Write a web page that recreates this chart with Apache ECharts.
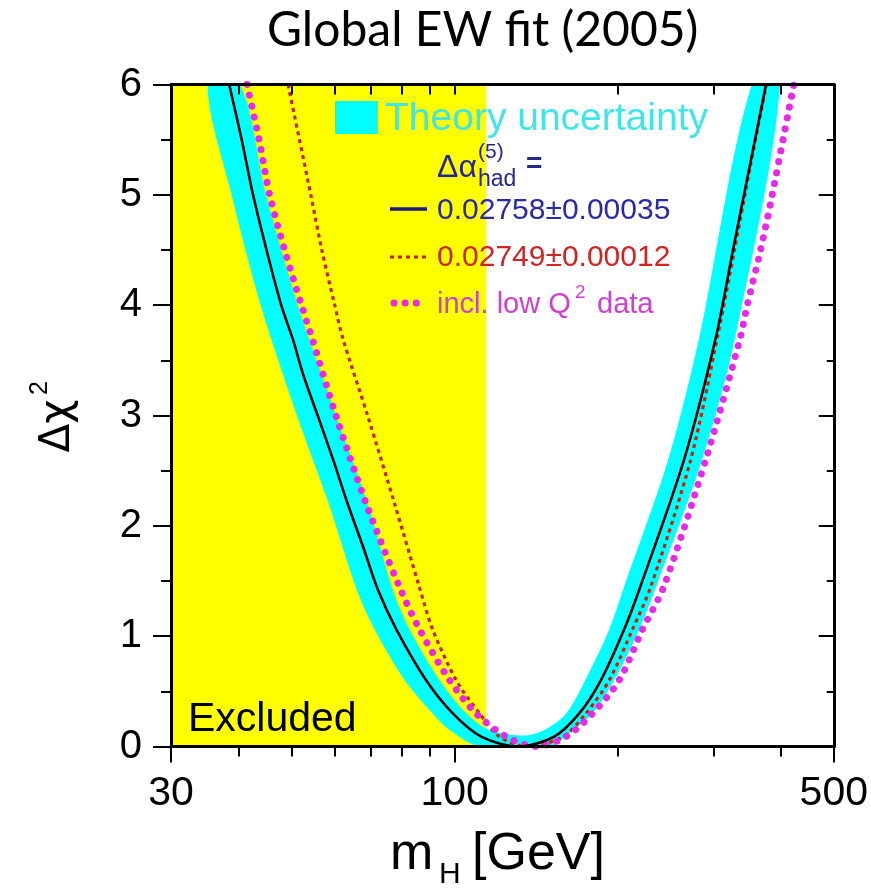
<!DOCTYPE html>
<html>
<head>
<meta charset="utf-8">
<script src="https://cdn.jsdelivr.net/npm/echarts@6/dist/echarts.min.js"></script>
<style>
  html, body { margin: 0; padding: 0; background: #ffffff; }
  #chart { width: 871px; height: 889px; }
</style>
</head>
<body>
<div id="chart"></div>
<script>
// Δχ² of the global electroweak fit as a function of the Higgs mass.
// Every curve is a list of [mH in GeV, Δχ²] points.

// LEP direct-search lower limit on mH (GeV)
const excludedBelow = 114.4;

// Fit with Δα_had^(5) = 0.02758 ± 0.00035
const fitCentral = [
  [38.4, 6], [40.5, 5.5], [42.5, 5], [45.0, 4.5], [47.9, 4], [50.4, 3.68],
  [52.5, 3.38], [56.0, 2.99], [59.7, 2.6], [63.5, 2.2], [67.8, 1.81],
  [72.2, 1.42], [78.1, 1.06], [88.6, 0.6], [99.2, 0.3], [111.9, 0.09],
  [131, 0], [152.6, 0.09], [169.7, 0.3], [186, 0.6], [205.3, 1.06],
  [220, 1.45], [264.8, 2.6], [302.8, 3.7], [325.9, 4.5], [349.6, 5.25], [375, 6]
];

// Fit with Δα_had^(5) = 0.02749 ± 0.00012
const fitAlphaLow = [
  [49.3, 6], [54.3, 5], [56.9, 4.5], [60.1, 4], [62.2, 3.7], [69.2, 2.99],
  [77.5, 2.2], [85.9, 1.46], [91.1, 1.06], [100.7, 0.6], [111.1, 0.3],
  [120.9, 0.09], [136, 0], [158.5, 0.09], [174.6, 0.3], [192.7, 0.6],
  [212.7, 1.06], [230, 1.45], [272.4, 2.6], [307, 3.775], [328, 4.5],
  [350.5, 5.25], [375.5, 6]
];

// Fit including low-Q² data
const fitLowQ2 = [
  [41.4, 6], [43.6, 5.5], [45.6, 5], [48.6, 4.5], [52.2, 4], [54.6, 3.7],
  [60.5, 2.99], [68.7, 2.2], [78.9, 1.46], [86.2, 1.06], [97.9, 0.6],
  [109.5, 0.3], [124.4, 0.09], [141, 0], [160.4, 0.09], [179.6, 0.3],
  [201, 0.6], [221.9, 1.06], [243, 1.45], [290.3, 2.6], [336, 3.7],
  [346.2, 4], [366.4, 4.5], [384.9, 5], [421.9, 6]
];

// Theory-uncertainty band: lower envelope (left to right) ...
const bandLower = [
  [35.1, 6], [38.8, 5], [43.9, 4], [51.2, 3], [58.6, 2.2], [66.0, 1.42],
  [71.2, 1.06], [80.9, 0.6], [91.0, 0.3], [97.9, 0.15], [111.1, 0],
  [151.3, 0], [160.0, 0.09], [179.3, 0.3], [196.8, 0.6], [218.8, 1.06],
  [235.2, 1.45], [285.8, 2.6], [328.7, 3.7], [397.9, 6]
];
// ... and upper envelope (right to left)
const bandUpper = [
  [353.1, 6], [282.2, 3.7], [247.5, 2.6], [205.3, 1.45], [192.7, 1.06],
  [174.0, 0.6], [160.6, 0.3], [146.3, 0.15], [134.4, 0.1], [115.9, 0.15],
  [105.1, 0.3], [93.8, 0.6], [82.6, 1.06], [76.9, 1.42], [69.1, 2.2],
  [60.4, 3], [51.4, 4], [44.9, 5], [40.2, 6]
];

// Axis ticks
const massLabels = [30, 100, 500];
const massMinorTicks = [40, 50, 60, 70, 80, 90, 200, 300, 400];
const massAllTicks = [30, 40, 50, 60, 70, 80, 90, 100, 200, 300, 400, 500];

const FONT = '"Liberation Sans", Arial, sans-serif';
const chart = echarts.init(document.getElementById('chart'), null, { renderer: 'canvas' });

const frameLine = { show: true, lineStyle: { color: '#000', width: 3 } };

const option = {
  animation: false,
  backgroundColor: '#ffffff',
  title: {
    text: 'Global EW fit (2005)',
    left: 262,
    top: 2,
    textStyle: { fontFamily: 'Lato, "Open Sans", sans-serif', fontWeight: 'normal', fontSize: 48, color: '#000' }
  },
  grid: { left: 171, right: 36, top: 84.5, bottom: 142.5, containLabel: false },
  xAxis: [
    {
      type: 'log', logBase: 10, min: 30, max: 500, position: 'bottom', z: 10,
      axisLine: frameLine,
      axisTick: { show: true, length: 16, lineStyle: { color: '#000', width: 2 }, customValues: massLabels },
      axisLabel: { show: true, customValues: massLabels, fontFamily: FONT, fontSize: 41, color: '#000', margin: 27 },
      splitLine: { show: false }, minorTick: { show: false }
    },
    {
      type: 'log', logBase: 10, min: 30, max: 500, position: 'bottom', z: 10,
      axisLine: { show: false },
      axisTick: { show: true, length: 10, lineStyle: { color: '#000', width: 2 }, customValues: massMinorTicks },
      axisLabel: { show: false }, splitLine: { show: false }
    },
    {
      type: 'log', logBase: 10, min: 30, max: 500, position: 'top', z: 10,
      axisLine: frameLine,
      axisTick: { show: true, inside: true, length: 10, lineStyle: { color: '#000', width: 2 }, customValues: massAllTicks },
      axisLabel: { show: false }, splitLine: { show: false }
    }
  ],
  yAxis: [
    {
      type: 'value', min: 0, max: 6, interval: 1, position: 'left', z: 10,
      axisLine: frameLine,
      axisTick: { show: true, length: 18, lineStyle: { color: '#000', width: 2 } },
      minorTick: { show: true, splitNumber: 2, length: 10, lineStyle: { color: '#000', width: 2 } },
      axisLabel: { fontFamily: FONT, fontSize: 40, color: '#000', margin: 29 },
      splitLine: { show: false }, minorSplitLine: { show: false }
    },
    {
      type: 'value', min: 0, max: 6, interval: 1, position: 'right', z: 10,
      axisLine: frameLine,
      axisTick: { show: true, inside: true, length: 15, lineStyle: { color: '#000', width: 2 } },
      minorTick: { show: true, splitNumber: 2, length: 7, lineStyle: { color: '#000', width: 2 } },
      axisLabel: { show: false },
      splitLine: { show: false }, minorSplitLine: { show: false }
    }
  ],
  series: [
    {
      name: 'Excluded',
      type: 'line', xAxisIndex: 0, yAxisIndex: 0, z: 0,
      data: [],
      markArea: {
        silent: true,
        itemStyle: { color: '#ffff00', opacity: 1 },
        data: [[{ xAxis: 30 }, { xAxis: excludedBelow }]]
      }
    },
    {
      name: 'Theory uncertainty',
      type: 'custom', xAxisIndex: 0, yAxisIndex: 0, z: 2,
      clip: true,
      data: [0],
      renderItem: function (params, api) {
        const pts = bandLower.concat(bandUpper).map(function (p) { return api.coord(p); });
        return {
          type: 'polygon',
          shape: { points: pts, smooth: 0.3 },
          style: { fill: '#00ffff', stroke: null }
        };
      }
    },
    {
      name: '0.02749±0.00012',
      type: 'line', xAxisIndex: 0, yAxisIndex: 0, z: 3,
      data: fitAlphaLow, smooth: 0.3, showSymbol: false, symbol: 'none',
      lineStyle: { color: '#cc2200', width: 3.2, type: [4, 4] }
    },
    {
      name: 'incl. low Q² data',
      type: 'line', xAxisIndex: 0, yAxisIndex: 0, z: 4,
      data: fitLowQ2, smooth: 0.3, showSymbol: false, symbol: 'none',
      lineStyle: { color: '#e82ae8', width: 7, type: [0.1, 11], cap: 'round' }
    },
    {
      name: '0.02758±0.00035',
      type: 'line', xAxisIndex: 0, yAxisIndex: 0, z: 5,
      data: fitCentral, smooth: 0.3, showSymbol: false, symbol: 'none',
      lineStyle: { color: '#000000', width: 2.6 }
    }
  ],
  graphic: [
    // y-axis title Δχ²
    {
      type: 'group', x: 58, y: 426, rotation: Math.PI / 2,
      children: [
        { type: 'text', x: 0, y: 0, style: { text: 'Δχ', font: '42px "DejaVu Sans", sans-serif', fill: '#000', align: 'center', verticalAlign: 'middle' } },
        { type: 'text', x: 38, y: -18, style: { text: '2', font: '25px ' + FONT, fill: '#000', align: 'center', verticalAlign: 'middle' } }
      ]
    },
    // x-axis title m_H [GeV]
    { type: 'text', x: 390, y: 855, style: { text: 'm', font: '52px ' + FONT, fill: '#000', align: 'left', verticalAlign: 'middle' } },
    { type: 'text', x: 439, y: 875, style: { text: 'H', font: '30px ' + FONT, fill: '#000', align: 'left', verticalAlign: 'middle' } },
    { type: 'text', x: 472, y: 855, style: { text: '[GeV]', font: '52px ' + FONT, fill: '#000', align: 'left', verticalAlign: 'middle' } },
    // excluded region label
    { type: 'text', x: 188, y: 720, z: 20, style: { text: 'Excluded', font: '41px ' + FONT, fill: '#000', align: 'left', verticalAlign: 'middle' } },
    // legend: theory band
    { type: 'rect', z: 20, shape: { x: 335, y: 101, width: 43, height: 33 }, style: { fill: '#00ffff' } },
    { type: 'text', x: 385, y: 119, z: 20, style: { text: 'Theory uncertainty', font: '39px ' + FONT, fill: '#3ee6e6', align: 'left', verticalAlign: 'middle' } },
    // legend heading Δα_had^(5) =
    { type: 'text', x: 437, y: 168, z: 20, style: { text: 'Δα', font: '32px ' + FONT, fill: '#26268e', align: 'left', verticalAlign: 'middle' } },
    { type: 'text', x: 478, y: 152, z: 20, style: { text: '(5)', font: '21px ' + FONT, fill: '#26268e', align: 'left', verticalAlign: 'middle' } },
    { type: 'text', x: 478, y: 180, z: 20, style: { text: 'had', font: '23px ' + FONT, fill: '#26268e', align: 'left', verticalAlign: 'middle' } },
    { type: 'text', x: 526, y: 164, z: 20, style: { text: '=', font: 'bold 28px ' + FONT, fill: '#26268e', align: 'left', verticalAlign: 'middle' } },
    // legend: central fit
    { type: 'line', z: 20, shape: { x1: 390, y1: 209, x2: 427, y2: 209 }, style: { stroke: '#1a1a80', lineWidth: 3.5 } },
    { type: 'text', x: 437, y: 211, z: 20, style: { text: '0.02758±0.00035', font: '30px ' + FONT, fill: '#2a2aa8', align: 'left', verticalAlign: 'middle' } },
    // legend: low Δα fit
    { type: 'line', z: 20, shape: { x1: 390, y1: 257, x2: 427, y2: 257 }, style: { stroke: '#cc2200', lineWidth: 3.2, lineDash: [4, 4] } },
    { type: 'text', x: 437, y: 258, z: 20, style: { text: '0.02749±0.00012', font: '30px ' + FONT, fill: '#d02424', align: 'left', verticalAlign: 'middle' } },
    // legend: low-Q² fit
    { type: 'line', z: 20, shape: { x1: 394, y1: 303, x2: 420, y2: 303 }, style: { stroke: '#e82ae8', lineWidth: 7, lineDash: [0.1, 11], lineCap: 'round' } },
    { type: 'text', x: 437, y: 305, z: 20, style: { text: 'incl. low Q', font: '29px ' + FONT, fill: '#d040d0', align: 'left', verticalAlign: 'middle' } },
    { type: 'text', x: 575, y: 293, z: 20, style: { text: '2', font: '19px ' + FONT, fill: '#d040d0', align: 'left', verticalAlign: 'middle' } },
    { type: 'text', x: 597, y: 305, z: 20, style: { text: 'data', font: '29px ' + FONT, fill: '#d040d0', align: 'left', verticalAlign: 'middle' } }
  ]
};

chart.setOption(option);
</script>
</body>
</html>
